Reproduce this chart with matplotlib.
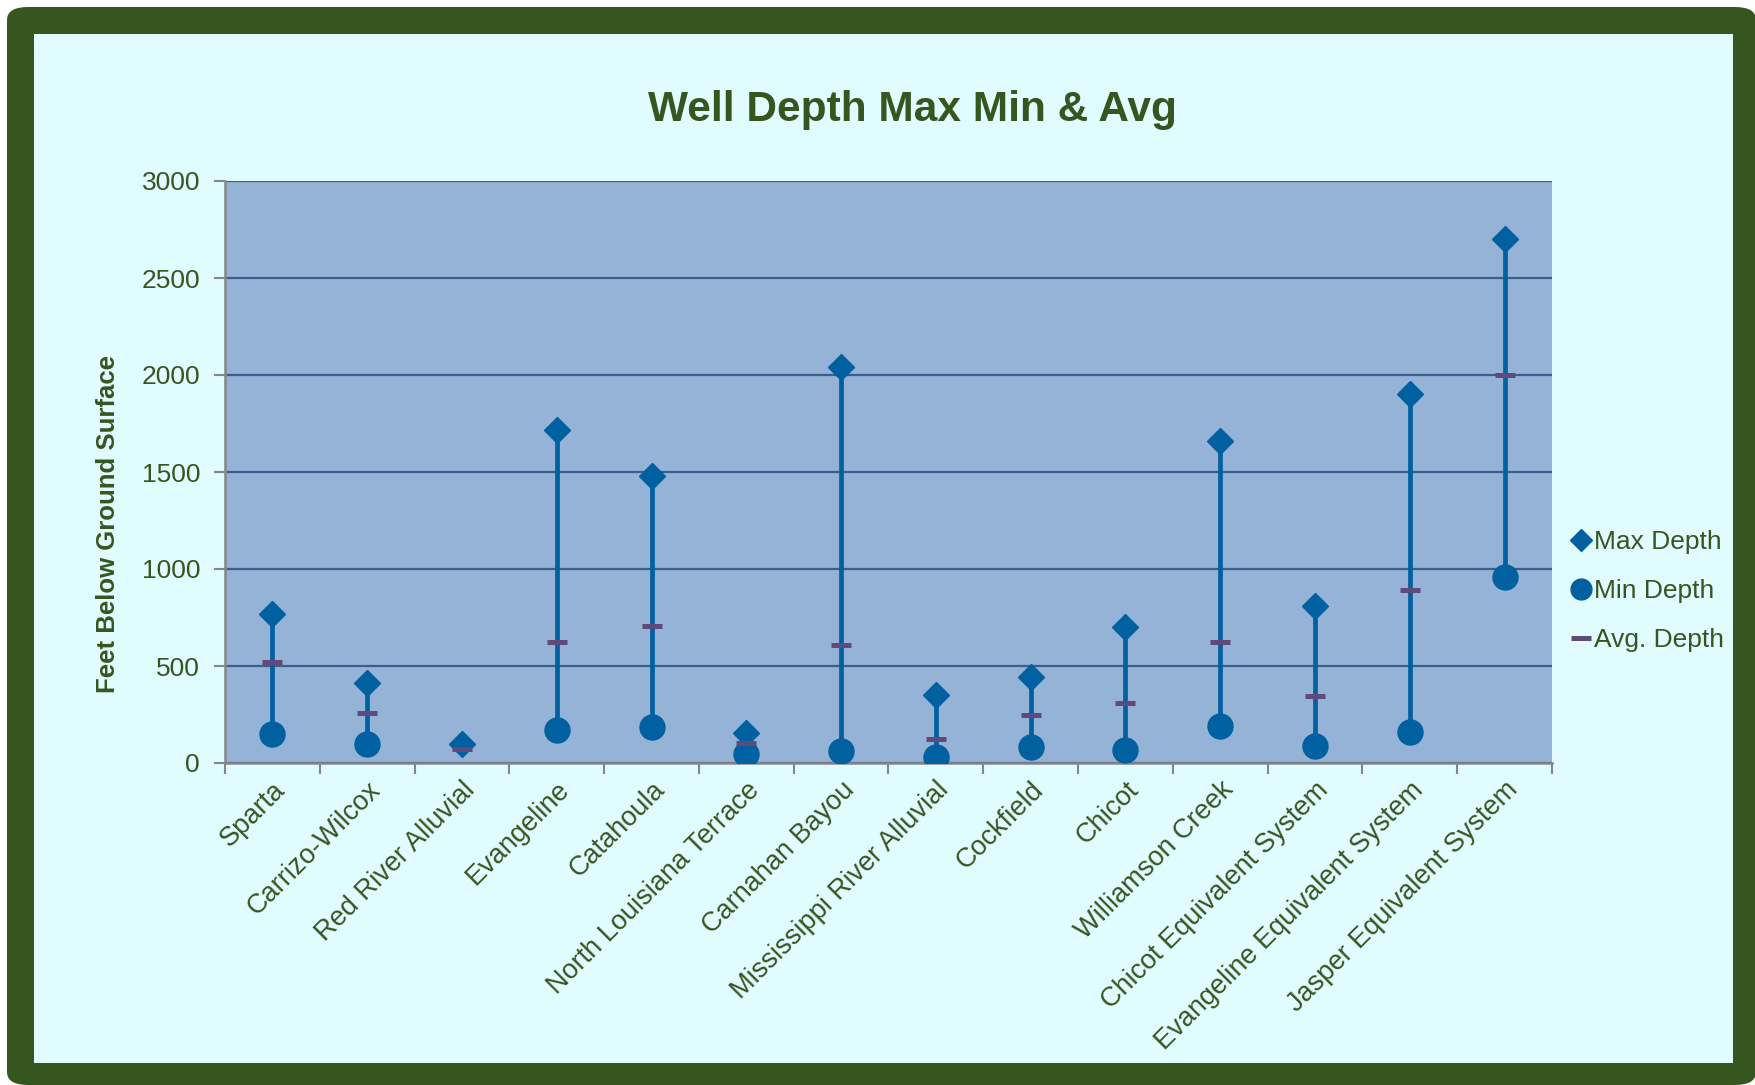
import numpy as np
import matplotlib
matplotlib.use("Agg")
from matplotlib import pyplot as plt
from matplotlib.patches import FancyBboxPatch, Rectangle
from matplotlib.lines import Line2D

# aquifer names and depths (feet below ground surface)
aquifers = ["Sparta", "Carrizo-Wilcox", "Red River Alluvial", "Evangeline",
            "Catahoula", "North Louisiana Terrace", "Carnahan Bayou",
            "Mississippi River Alluvial", "Cockfield", "Chicot",
            "Williamson Creek", "Chicot Equivalent System",
            "Evangeline Equivalent System", "Jasper Equivalent System"]
max_depth = [770, 410, 100, 1715, 1480, 155, 2040, 350, 445, 700, 1660, 810, 1900, 2700]
min_depth = [150, 100, np.nan, 170, 185, 45, 60, 30, 80, 65, 190, 90, 160, 960]
avg_depth = [520, 260, 70, 625, 705, 105, 610, 125, 250, 310, 625, 345, 890, 2000]

green = "#36561F"
blue = "#0060A0"
purple = "#604A7B"
plt.rcParams["font.family"] = ["Liberation Sans", "DejaVu Sans"]

fig = plt.figure(figsize=(17.56, 10.85), dpi=100, facecolor="white")

# frame
W, H = 1756, 1085
frame = FancyBboxPatch((7 / W, 0), (W - 7) / W, (H - 7) / H,
                       boxstyle="round,pad=0,rounding_size=0.012",
                       transform=fig.transFigure, facecolor=green,
                       edgecolor="none", zorder=0)
fig.patches.append(frame)
inner = Rectangle((34 / W, 1 - 1063 / H), (1733 - 34) / W, (1063 - 34) / H,
                  transform=fig.transFigure, facecolor="#E0FCFF",
                  edgecolor="none", zorder=1)
fig.patches.append(inner)

ax = fig.add_axes([225 / W, 1 - 763 / H, (1552 - 225) / W, (763 - 181) / H])
ax.set_facecolor("#95B3D7")
ax.set_zorder(2)

x = np.arange(len(aquifers))
mn = np.array(min_depth)
mx = np.array(max_depth)
ok = ~np.isnan(mn)
ax.vlines(x[ok], mn[ok], mx[ok], color=blue, lw=3.4, zorder=3)
ax.plot(x, max_depth, ls="none", marker="D", ms=13, color=blue, zorder=4)
ax.plot(x, min_depth, ls="none", marker="o", ms=18, color=blue, zorder=4)
ax.plot(x, avg_depth, ls="none", marker="_", ms=15, mew=3.6, color=purple, zorder=5)

ax.set_xlim(-0.5, len(aquifers) - 0.5)
ax.set_ylim(0, 3000)
ax.set_yticks(np.arange(0, 3001, 500))
ax.yaxis.grid(True, color="#3B5E8C", lw=1.6)
ax.set_axisbelow(True)

ax.set_xticks(x)
ax.set_xticklabels(aquifers, rotation=45, ha="right", rotation_mode="anchor")
ax.set_xticks(np.arange(-0.5, len(aquifers), 1), minor=True)
ax.tick_params(axis="x", which="major", length=0, pad=10, labelsize=19.5, labelcolor=green)
ax.tick_params(axis="x", which="minor", length=8, width=1.5, color="#868686", direction="out")
ax.tick_params(axis="y", length=8, width=1.5, color="#868686", labelsize=19,
               labelcolor=green, pad=10)
for s in ["top", "right"]:
    ax.spines[s].set_visible(False)
for s in ["left", "bottom"]:
    ax.spines[s].set_color("#868686")
    ax.spines[s].set_linewidth(1.8)

fig.text(912 / W, 1 - 121 / H, "Well Depth Max Min & Avg", ha="center",
         va="baseline", fontsize=30.5, fontweight="bold", color=green)
fig.text(108 / W, 1 - 524 / H, "Feet Below Ground Surface", rotation=90,
         ha="center", va="center", fontsize=18.5, fontweight="bold", color=green)

handles = [Line2D([], [], ls="none", marker="D", ms=11, color=blue),
           Line2D([], [], ls="none", marker="o", ms=15, color=blue),
           Line2D([], [], ls="none", marker="_", ms=14, mew=3.6, color=purple)]
leg = fig.legend(handles, ["Max Depth", "Min Depth", "Avg. Depth"],
                 loc="center left", bbox_to_anchor=(1572 / W, 1 - 591 / H),
                 frameon=False, fontsize=19, handlelength=0.7,
                 handletextpad=0.15, labelspacing=0.95, borderpad=0,
                 borderaxespad=0)
for t in leg.get_texts():
    t.set_color(green)

plt.savefig("out.png", dpi=100, facecolor="white")
